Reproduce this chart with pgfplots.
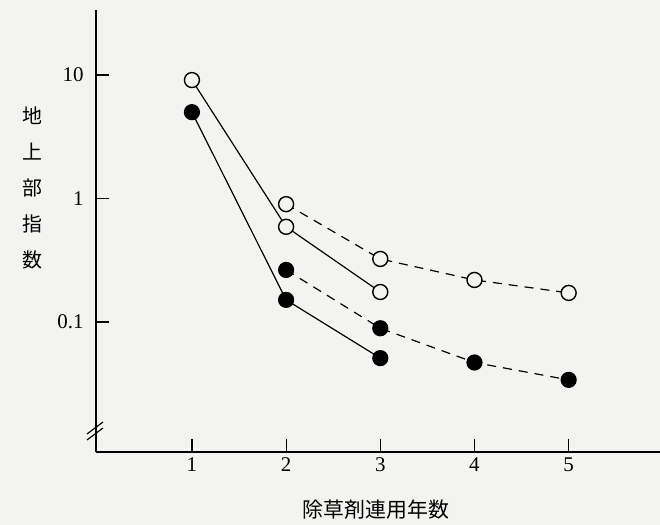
\documentclass[border=0pt]{standalone}
\usepackage{pgfplots}
\pgfplotsset{compat=1.18}
\usepackage{fontspec}
\newfontfamily\cjk{Noto Sans CJK JP}
\newfontfamily\numfont{Liberation Serif}
\definecolor{bg}{RGB}{243,243,241}
\begin{document}
\begin{tikzpicture}[x=1bp,y=1bp]
\fill[bg] (-96,-73) rectangle (564,452);
\path[use as bounding box] (-96,-73) rectangle (564,452);
\begin{axis}[
  at={(0,0)}, anchor=south west, scale only axis,
  width=564bp, height=442bp,
  ymode=log, xmin=-0.0186, xmax=5.97, ymin=0.00886, ymax=33.6,
  axis x line=bottom, axis y line=left,
  axis line style={-, line width=1.3pt, black},
  xtick={1,2,3,4,5}, xticklabels={1,2,3,4,5},
  ytick={0.1,1,10}, yticklabels={0.1,1,10},
  /pgf/number format/assume math mode=true,
  tick label style={font=\numfont\fontsize{21}{23}\selectfont},
  yticklabel style={xshift=-9bp},
  xticklabel style={yshift=-2bp},
  yminorticks=false, xminorticks=false,
  tick align=inside, major tick length=13bp,
  tick style={line width=1.2pt, black},
  clip=false,
]
\addplot[black, line width=1.2pt, mark=*, mark size=7.5bp, mark options={fill=bg, draw=black, line width=1.4pt, solid}]
  coordinates {(1,9.1) (2,0.59) (3,0.175)};
\addplot[black, line width=1.2pt, dash pattern=on 9bp off 7bp, mark=*, mark size=7.5bp, mark options={fill=bg, draw=black, line width=1.4pt, solid}]
  coordinates {(2,0.90) (3,0.324) (4,0.219) (5,0.172)};
\addplot[black, line width=1.2pt, mark=*, mark size=7.5bp, mark options={fill=black, draw=black, solid}]
  coordinates {(1,5.0) (2,0.151) (3,0.051)};
\addplot[black, line width=1.2pt, dash pattern=on 9bp off 7bp, mark=*, mark size=7.5bp, mark options={fill=black, draw=black, solid}]
  coordinates {(2,0.264) (3,0.089) (4,0.047) (5,0.034)};
\end{axis}
% axis break
\draw[line width=1.2pt] (-9,12) -- (7,24);
\draw[line width=1.2pt] (-9,18) -- (7,30);
\foreach \c/\yy in {地/336,上/300,部/264,指/228,数/192}
  \node[font=\cjk\fontsize{20}{20}\selectfont] at (-64,\yy) {\c};
\node[font=\cjk\fontsize{21}{21}\selectfont] at (280,-58) {除草剤連用年数};
\end{tikzpicture}
\end{document}
